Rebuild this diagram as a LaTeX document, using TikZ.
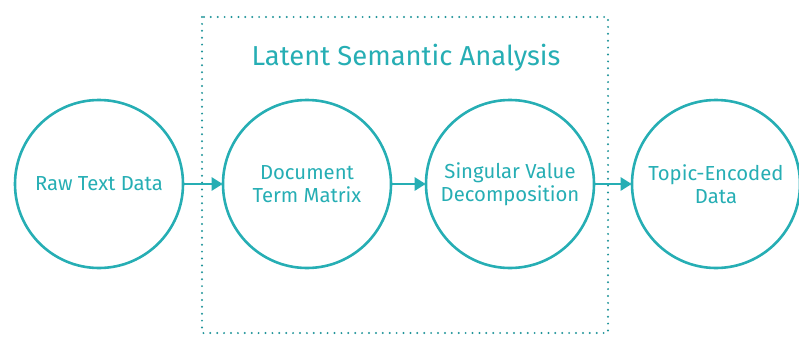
\documentclass[tikz,border=0pt]{standalone}
\usepackage{fontspec}
\setmainfont{Fira Sans}
\usetikzlibrary{arrows.meta}
\definecolor{lsateal}{RGB}{38,174,180}
\begin{document}
\begin{tikzpicture}[x=1pt,y=-1pt,
  stage/.style={circle,draw=lsateal,line width=2.6pt,minimum size=168pt,inner sep=0pt,
    text=lsateal,align=center,font=\fontsize{20.3}{23.5}\selectfont},
  flow/.style={draw=lsateal,line width=2.6pt,-{Triangle[length=11pt,width=13pt]},shorten >=-1pt},
  lsabox/.style={draw=lsateal!85!black,line width=2.2pt,line cap=round,dash pattern=on 0pt off 6.9pt}]
\useasboundingbox (0,0) rectangle (799,340);
\draw[lsabox] (202,17) rectangle (608,333);
\node[text=lsateal,font=\fontsize{27.4}{32}\selectfont] (title) at (406,58) {Latent Semantic Analysis};

\node[stage] (raw) at (99,184) {Raw Text Data};
\node[stage] (dtm) at (307,184) {Document\\Term Matrix};
\draw[flow] (raw) -- (dtm);
\node[stage] (svd) at (510,184) {Singular Value\\Decomposition};
\draw[flow] (dtm) -- (svd);
\node[stage] (topic) at (716,184) {Topic-Encoded\\Data};
\draw[flow] (svd) -- (topic);
\end{tikzpicture}
\end{document}
